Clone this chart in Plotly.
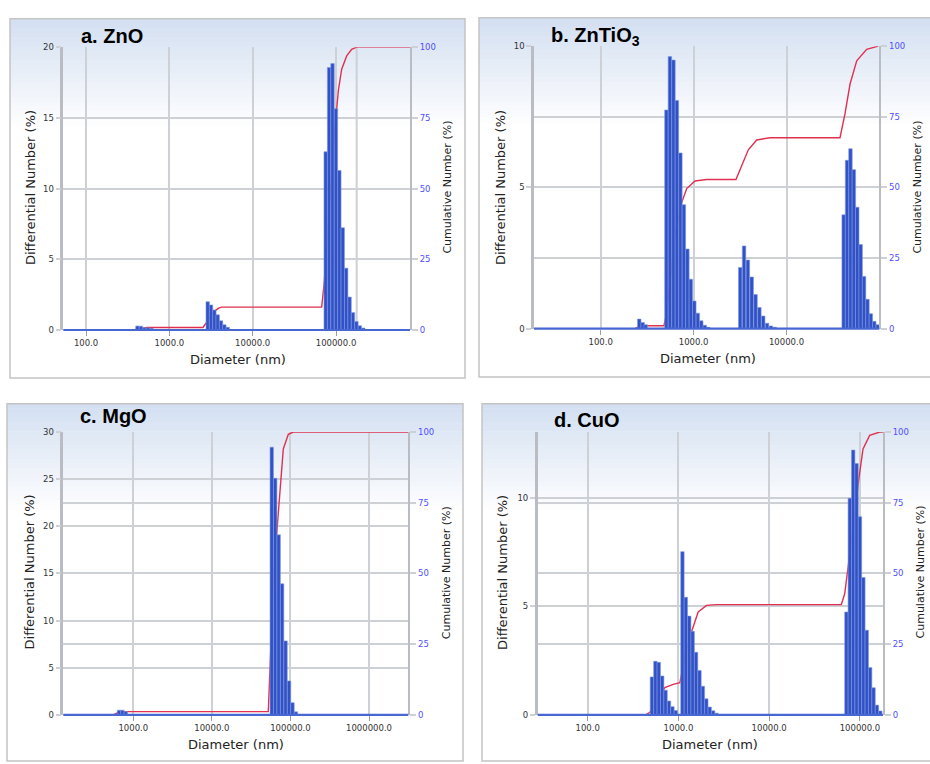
import math
import plotly.graph_objects as go

W, H = 930, 764

# ---------------- data ----------------
# a. ZnO  -- bar centres (nm) and differential number (%)
a_diam = [414, 456, 502, 553, 610,
          2884, 3162, 3467, 3802, 4169, 4571, 5012,
          75160, 82600, 90780, 99770, 109650, 120500, 132430, 145550, 159960, 175800, 193200, 212300]
a_diff = [0.28, 0.27, 0.15, 0.15, 0.12,
          2.0, 1.77, 1.42, 1.07, 0.65, 0.37, 0.19,
          12.6, 18.56, 18.84, 15.65, 11.28, 7.23, 4.37, 2.33, 1.23, 0.6, 0.3, 0.14]
a_cum_diam = [55, 366, 445, 540, 2535, 2911, 3436, 3900, 4246, 67300, 71800, 78000, 84700,
              92000, 100000, 106700, 117000, 134300, 154200, 177000, 772000]
a_cum = [0, 0, 0.5, 0.9, 0.9, 3.5, 6.5, 7.7, 8.1, 8.1, 16, 30, 47,
         63, 75.4, 84.7, 92.2, 96.9, 99.2, 100, 100]
a_tick_diam = [100, 1000, 10000, 100000]
a_tick_text = ["100.0", "1000.0", "10000.0", "100000.0"]

# b. ZnTiO3
b_diam = [260, 283, 305,
          510, 556, 607, 661, 721, 786, 857, 934, 1018, 1110, 1210, 1320, 1438,
          3176, 3492, 3840, 4223, 4644, 5107, 5617, 6178, 6794, 7472,
          41250, 44870, 48820, 53100, 57770, 62850, 68380, 74380, 80920, 88030, 95790]
b_diff = [0.34, 0.22, 0.14,
          7.74, 9.63, 9.51, 8.08, 6.22, 4.39, 2.82, 1.75, 0.98, 0.55, 0.28, 0.12, 0.05,
          2.17, 2.93, 2.43, 1.83, 1.21, 0.75, 0.45, 0.19, 0.10, 0.05,
          4.03, 5.96, 6.37, 5.63, 4.30, 2.98, 1.85, 1.04, 0.53, 0.26, 0.14]
b_cum_diam = [20, 234, 265, 288, 480, 501, 537, 575, 631, 745, 843, 1035, 1384,
              2858, 3296, 3882, 4775, 6637, 37670, 42660, 48310, 57020, 72950, 97270]
b_cum = [0, 0, 0.9, 1.05, 1.05, 4, 12, 22, 33, 44.7, 49.6, 52.3, 52.8,
         52.8, 57.5, 63.3, 66.8, 67.6, 67.6, 76.1, 86.6, 94.8, 98.9, 100]
b_tick_diam = [100, 1000, 10000, 100000]
b_tick_text = ["100.0", "1000.0", "10000.0", "100000.0"]

# c. MgO
c_diam = [658, 726, 802,
          57810, 63970, 70790, 78340, 86700, 95940, 106170, 117490]
c_diff = [0.5, 0.5, 0.35,
          28.4, 25.1, 19.1, 13.9, 7.85, 3.6, 1.3, 0.32]
c_cum_diam = [130, 556, 615, 692, 52240, 54950, 57680, 61800, 66830, 73620, 77400,
              81100, 93970, 108700, 3160000]
c_cum = [0, 0, 0.6, 1.15, 1.15, 18, 35, 52, 64, 80, 88, 94, 99.2, 100, 100]
c_tick_diam = [1000, 10000, 100000, 1000000]
c_tick_text = ["1000.0", "10000.0", "100000.0", "1000000.0"]

# d. CuO
d_diam = [510, 557, 607, 662, 721, 787, 859, 935,
          1106, 1206, 1315, 1434, 1564, 1705, 1859, 2028, 2211, 2411, 2629,
          70920, 77290, 84250, 91820, 100070, 109060, 118870, 129550, 141200, 153900, 167700]
d_diff = [1.75, 2.47, 2.42, 1.79, 1.14, 0.64, 0.38, 0.2,
          7.52, 5.42, 4.55, 3.85, 2.88, 2.05, 1.32, 0.74, 0.36, 0.19, 0.08,
          4.74, 9.98, 12.2, 11.58, 9.13, 6.33, 3.9, 2.18, 1.25, 0.45, 0.18]
d_cum_diam = [29, 437, 484, 574, 708, 875, 1037, 1128, 1227, 1393, 1650, 2036, 2625,
              62370, 67920, 77090, 87500, 97720, 108100, 128000, 164900, 179000]
d_cum = [0, 0, 0.9, 4.5, 9.65, 10.8, 11.4, 17, 23, 29.4, 36.4, 38.7, 39,
         39, 42.8, 56.7, 72, 84, 94, 98.8, 100, 100]
d_tick_diam = [100, 1000, 10000, 100000]
d_tick_text = ["100.0", "1000.0", "10000.0", "100000.0"]

cum_ticks = [0, 25, 50, 75, 100]

# ---------------- styling / layout ----------------
BAR_FILL = "#3152C6"
BAR_EDGE = "#7f97e2"
RED = "#E0304F"
GRID = "#CDD0D5"
BORDER = "#B9BDC3"
BASE_BLUE = "#4767D2"
RIGHT_BLUE = "#4F4FFF"
TXT = "#222222"


def px(x):
    return x / W


def py(y):
    return 1 - y / H


panels = [
    dict(title="<b>a. ZnO</b>", diam=a_diam, diff=a_diff, cd=a_cum_diam, cv=a_cum,
         tdiam=a_tick_diam, ttext=a_tick_text, ymax=20,
         xdom=(63.3, 410.0), ydom=(42.7, 329.3), xr=(1.727, 5.888), barw=0.041,
         frame=(10, 14, 465, 378), tpos=(79, 31.5), ylab=(30.5, 185), y2lab=(448, 185),
         xlab=(237.5, 359)),
    dict(title="<b>b. ZnTiO<sub>3</sub></b>", diam=b_diam, diff=b_diff, cd=b_cum_diam, cv=b_cum,
         tdiam=b_tick_diam, ttext=b_tick_text, ymax=10,
         xdom=(534.0, 879.3), ydom=(41.7, 328.0), xr=(1.282, 4.999), barw=0.0375,
         frame=(479, 13, 931, 377), tpos=(549, 32), ylab=(500, 184.5), y2lab=(918, 185),
         xlab=(707.5, 358.3)),
    dict(title="<b>c. MgO</b>", diam=c_diam, diff=c_diff, cd=c_cum_diam, cv=c_cum,
         tdiam=c_tick_diam, ttext=c_tick_text, ymax=30,
         xdom=(63.3, 408.3), ydom=(432.7, 719.3), xr=(2.109, 6.500), barw=0.0435,
         frame=(7, 404, 463, 766), tpos=(77.5, 416.5), ylab=(29.5, 574.5), y2lab=(446.7, 575),
         xlab=(236, 749)),
    dict(title="<b>d. CuO</b>", diam=d_diam, diff=d_diff, cd=d_cum_diam, cv=d_cum,
         tdiam=d_tick_diam, ttext=d_tick_text, ymax=13.03,
         xdom=(537.7, 883.0), ydom=(432.7, 719.3), xr=(1.449, 5.254), barw=0.0376,
         frame=(482, 404, 931, 766), tpos=(551.5, 420.5), ylab=(502.5, 575), y2lab=(920, 575),
         xlab=(710, 749)),
]

fig = go.Figure()
layout = dict(
    width=W, height=H, margin=dict(l=0, r=0, t=0, b=0),
    paper_bgcolor="white", plot_bgcolor="rgba(0,0,0,0)",
    showlegend=False, barmode="overlay",
    font=dict(family="DejaVu Sans", size=8.5, color="#333333"),
)
shapes = []
annotations = []

for i, p in enumerate(panels, start=1):
    xs = "" if i == 1 else str(i)
    xname = "x" + xs
    ycum = "y" + xs                # base axis (right side, cumulative)
    ydiff = "y" + str(i + 4)       # overlay axis (left side, differential)

    # frame with vertical gradient
    fx0, fy0, fx1, fy1 = p["frame"]
    nb = 24
    gh = 112.0
    for k in range(nb):
        t = k / (nb - 1)
        r = int(212 + (255 - 212) * t)
        g = int(224 + (255 - 224) * t)
        b = int(242 + (255 - 242) * t)
        shapes.append(dict(type="rect", xref="paper", yref="paper", layer="below",
                           x0=px(fx0), x1=px(fx1), y0=py(fy0 + gh * (k + 1) / nb + 0.5),
                           y1=py(fy0 + gh * k / nb), line=dict(width=0),
                           fillcolor=f"rgb({r},{g},{b})"))
    shapes.append(dict(type="rect", xref="paper", yref="paper", layer="below",
                       x0=px(fx0), x1=px(fx1), y0=py(fy1), y1=py(fy0),
                       line=dict(color="#C4C4C4", width=1.5), fillcolor="rgba(0,0,0,0)"))

    # bars (differential) on the overlaying left axis -> drawn above the red curve
    fig.add_trace(go.Bar(
        x=[math.log10(d) for d in p["diam"]], y=p["diff"], width=p["barw"],
        marker=dict(color=BAR_FILL, line=dict(color=BAR_EDGE, width=0.6)),
        xaxis=xname, yaxis=ydiff, hoverinfo="skip"))
    # cumulative curve on the base right axis
    fig.add_trace(go.Scatter(
        x=[math.log10(d) for d in p["cd"]], y=p["cv"], mode="lines",
        line=dict(color=RED, width=1.4, shape="linear"),
        xaxis=xname, yaxis=ycum, hoverinfo="skip"))

    # blue zero baseline drawn above the traces
    shapes.append(dict(type="line", xref=xname + " domain", yref=ycum + " domain",
                       x0=0, x1=1, y0=0, y1=0, layer="above",
                       line=dict(color=BASE_BLUE, width=2.2)))

    layout["xaxis" + xs] = dict(
        domain=[px(p["xdom"][0]), px(p["xdom"][1])], anchor=ycum,
        range=list(p["xr"]), tickmode="array",
        tickvals=[math.log10(v) for v in p["tdiam"]], ticktext=p["ttext"],
        showgrid=True, gridcolor=GRID, gridwidth=2, zeroline=False,
        showline=False,
        ticks="outside", ticklen=5, tickcolor="#9A9EA5", tickwidth=1,
        tickfont=dict(size=8.5, color="#333333", family="DejaVu Sans"))
    layout["yaxis" + xs] = dict(
        domain=[py(p["ydom"][1]), py(p["ydom"][0])], anchor=xname, side="right",
        range=[0, 100], tickmode="array", tickvals=cum_ticks,
        showgrid=True, gridcolor=GRID, gridwidth=2, zeroline=False,
        showline=True, linecolor=BORDER, linewidth=2,
        ticks="outside", ticklen=6, tickcolor=GRID, tickwidth=2,
        tickfont=dict(size=8.5, color=RIGHT_BLUE, family="DejaVu Sans"))
    layout["yaxis" + str(i + 4)] = dict(
        overlaying=ycum, anchor=xname, side="left",
        range=[0, p["ymax"]], dtick=5, tick0=0,
        showgrid=True, gridcolor=GRID, gridwidth=2, zeroline=False,
        showline=True, linecolor=BORDER, linewidth=2.5,
        ticks="outside", ticklen=5, tickcolor=GRID, tickwidth=2,
        tickfont=dict(size=8.5, color="#333333", family="DejaVu Sans"))

    annotations.append(dict(text=p["title"], xref="paper", yref="paper",
                            x=px(p["tpos"][0]), y=py(p["tpos"][1]), xanchor="left", yanchor="middle",
                            showarrow=False,
                            font=dict(family="Liberation Sans, Arial", size=20, color="#000000")))
    annotations.append(dict(text="Differential Number (%)", xref="paper", yref="paper",
                            x=px(p["ylab"][0]), y=py(p["ylab"][1]), textangle=-90,
                            xanchor="center", yanchor="middle", showarrow=False,
                            font=dict(family="DejaVu Sans", size=13, color=TXT)))
    annotations.append(dict(text="Cumulative Number (%)", xref="paper", yref="paper",
                            x=px(p["y2lab"][0]), y=py(p["y2lab"][1]), textangle=-90,
                            xanchor="center", yanchor="middle", showarrow=False,
                            font=dict(family="DejaVu Sans", size=11, color=TXT)))
    annotations.append(dict(text="Diameter (nm)", xref="paper", yref="paper",
                            x=px(p["xlab"][0]), y=py(p["xlab"][1]),
                            xanchor="center", yanchor="middle", showarrow=False,
                            font=dict(family="DejaVu Sans", size=13, color=TXT)))

# extra vertical grid line seen in panel a
shapes.append(dict(type="line", xref="x", yref="y domain", x0=math.log10(177000),
                   x1=math.log10(177000), y0=0, y1=1, layer="below",
                   line=dict(color=GRID, width=2)))

layout["shapes"] = shapes
layout["annotations"] = annotations
fig.update_layout(**layout)
fig.write_html("out.html")
